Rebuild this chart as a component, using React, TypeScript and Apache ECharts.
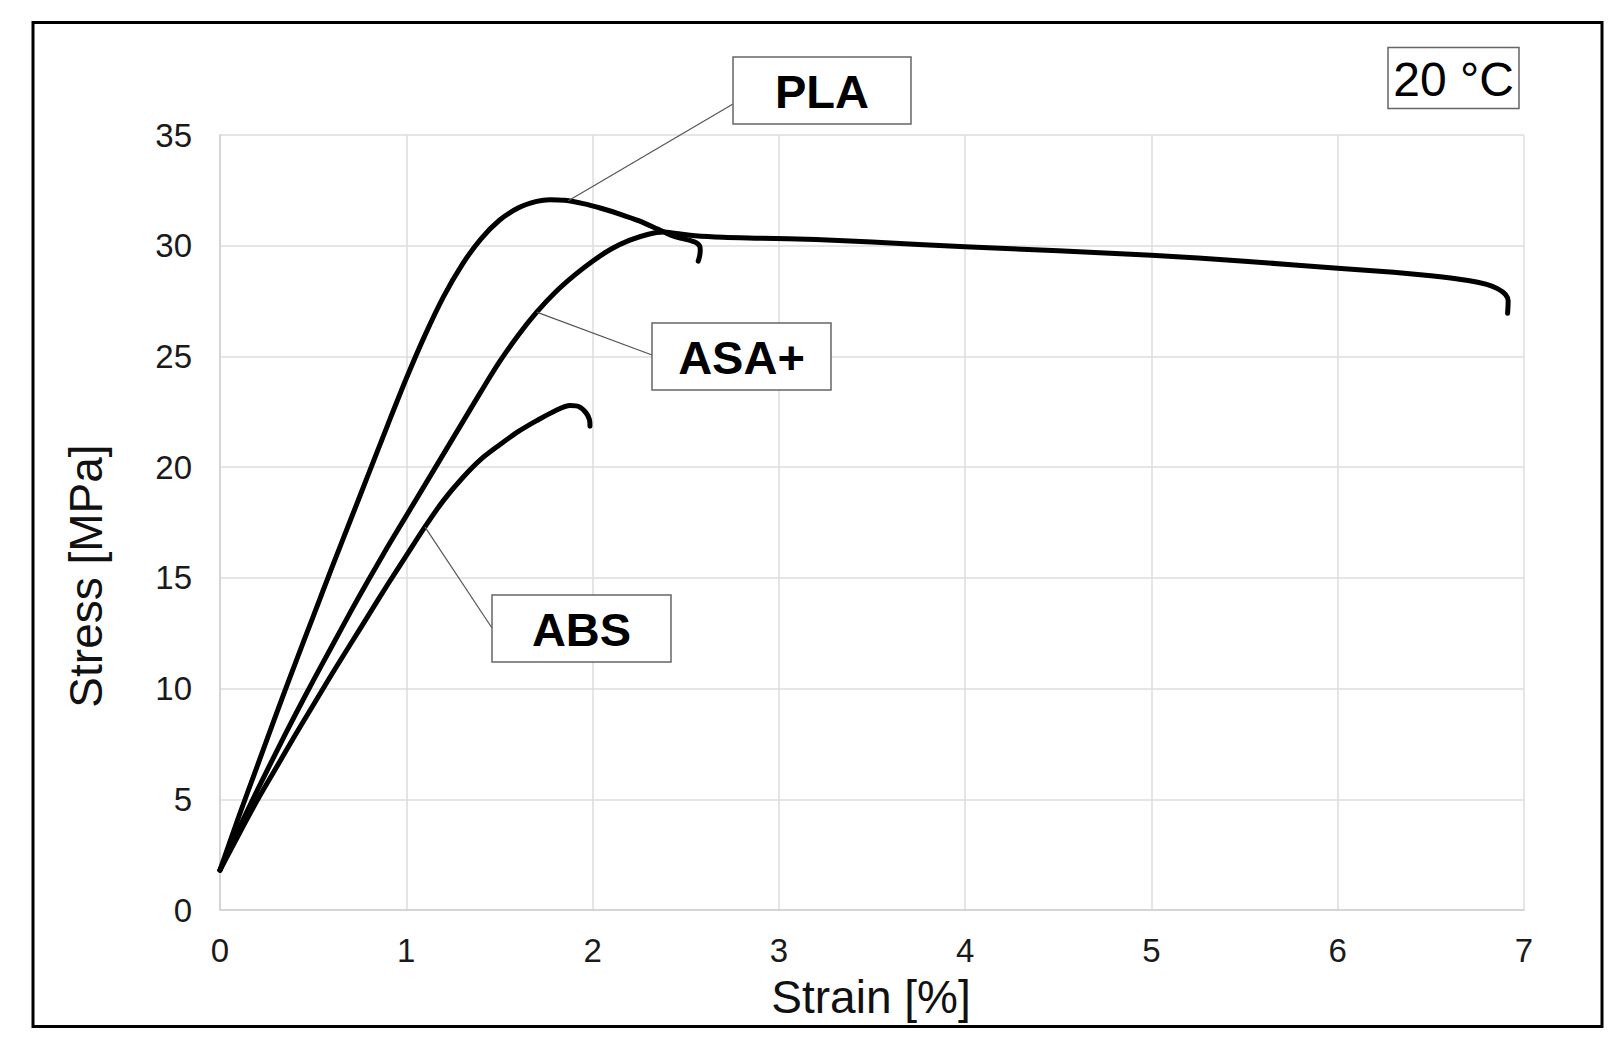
import React, { useEffect, useRef } from "react";
import * as echarts from "echarts";

// Strain [%] / Stress [MPa] readings for each material
const plaStrain = [0, 0.1, 0.2, 0.3, 0.4, 0.5, 0.6, 0.7, 0.8, 0.9, 1.0, 1.1, 1.2, 1.3, 1.4, 1.5, 1.6, 1.7, 1.77, 1.85, 1.95, 2.05, 2.15, 2.25, 2.35, 2.42, 2.48, 2.53, 2.56, 2.575, 2.578, 2.575, 2.567];
const plaStress = [1.8, 4.2, 6.5, 8.8, 11.05, 13.25, 15.45, 17.6, 19.75, 21.9, 24.0, 25.95, 27.7, 29.15, 30.3, 31.15, 31.7, 32.0, 32.08, 32.05, 31.9, 31.68, 31.42, 31.12, 30.75, 30.48, 30.33, 30.22, 30.12, 29.98, 29.8, 29.55, 29.3];

const asaStrain = [0, 0.1, 0.2, 0.3, 0.4, 0.5, 0.6, 0.7, 0.8, 0.9, 1.0, 1.1, 1.2, 1.3, 1.4, 1.5, 1.6, 1.7, 1.8, 1.9, 2.0, 2.1, 2.2, 2.3, 2.38, 2.45, 2.55, 2.7, 2.9, 3.2, 3.5, 4.0, 4.5, 5.0, 5.5, 6.0, 6.3, 6.5, 6.7, 6.8, 6.86, 6.9, 6.915, 6.912];
const asaStress = [1.8, 3.65, 5.4, 7.1, 8.75, 10.35, 11.9, 13.45, 14.95, 16.4, 17.8, 19.2, 20.6, 22.0, 23.4, 24.75, 25.95, 27.0, 27.9, 28.65, 29.3, 29.85, 30.25, 30.52, 30.62, 30.55, 30.45, 30.38, 30.34, 30.28, 30.17, 29.95, 29.77, 29.57, 29.3, 28.98, 28.8, 28.64, 28.43, 28.25, 28.05, 27.8, 27.5, 26.95];

const absStrain = [0, 0.1, 0.2, 0.3, 0.4, 0.5, 0.6, 0.7, 0.8, 0.9, 1.0, 1.1, 1.2, 1.3, 1.4, 1.5, 1.6, 1.7, 1.8, 1.88, 1.93, 1.965, 1.983, 1.986];
const absStress = [1.8, 3.4, 4.95, 6.4, 7.85, 9.25, 10.65, 12.0, 13.35, 14.7, 16.0, 17.3, 18.5, 19.5, 20.35, 21.0, 21.6, 22.1, 22.55, 22.78, 22.72, 22.45, 22.15, 21.85];

const seriesNames = ["PLA", "ASA+", "ABS"];
// label anchors on the curves (data coords)
const anchorPoints: [number, number][] = [[1.87, 32.03], [1.70, 27.0], [1.1, 17.3]];

const FONT = "'Liberation Sans', Arial, sans-serif";

function zip(xs: number[], ys: number[]) {
  return xs.map((x, i) => [x, ys[i]]);
}

export default function App() {
  const ref = useRef<HTMLDivElement>(null);
  useEffect(() => {
    if (!ref.current) return;
    const chart = echarts.init(ref.current, null, { renderer: "svg", width: 1624, height: 1048 });
    const lineSeries = (name: string, data: number[][]) => ({
      name,
      type: "line",
      data,
      showSymbol: false,
      smooth: 0.3,
      lineStyle: { color: "#000", width: 5, cap: "round", join: "round" },
      z: 3,
    });
    const axisCommon = {
      type: "value",
      axisLine: { show: true, lineStyle: { color: "#cfcfcf", width: 1.5 } },
      axisTick: { show: false },
      splitLine: { show: true, lineStyle: { color: "#dcdcdc", width: 1.5 } },
    };
    chart.setOption({
      animation: false,
      backgroundColor: "#fff",
      grid: { left: 220, right: 100, top: 135, bottom: 138, containLabel: false },
      xAxis: {
        ...axisCommon,
        min: 0,
        max: 7,
        interval: 1,
        axisLabel: { fontSize: 33, color: "#1a1a1a", margin: 24, fontFamily: FONT },
      },
      yAxis: {
        ...axisCommon,
        min: 0,
        max: 35,
        interval: 5,
        axisLabel: { fontSize: 33, color: "#1a1a1a", margin: 28, fontFamily: FONT },
      },
      series: [
        lineSeries(seriesNames[0], zip(plaStrain, plaStress)),
        lineSeries(seriesNames[1], zip(asaStrain, asaStress)),
        lineSeries(seriesNames[2], zip(absStrain, absStress)),
      ],
    });

    const px = anchorPoints.map((p) => chart.convertToPixel({ gridIndex: 0 }, p) as number[]);
    const boxes = [
      { x: 733, y: 57, w: 178, h: 67 },
      { x: 652, y: 323, w: 179, h: 67 },
      { x: 492, y: 595, w: 179, h: 67 },
    ];
    const leaderTargets = [
      [733, 104],
      [652, 355],
      [492, 628],
    ];
    const graphics: any[] = [];
    graphics.push({
      type: "rect",
      shape: { x: 33, y: 22.5, width: 1569, height: 1004 },
      style: { fill: "none", stroke: "#000", lineWidth: 3 },
      z: 10,
    });
    px.forEach((p, i) => {
      graphics.push({
        type: "line",
        shape: { x1: p[0], y1: p[1], x2: leaderTargets[i][0], y2: leaderTargets[i][1] },
        style: { stroke: "#555", lineWidth: 1.2 },
        z: 4,
      });
      const b = boxes[i];
      graphics.push({
        type: "rect",
        shape: { x: b.x, y: b.y, width: b.w, height: b.h },
        style: { fill: "#fff", stroke: "#666", lineWidth: 1.5 },
        z: 5,
      });
      graphics.push({
        type: "text",
        x: b.x + b.w / 2,
        y: b.y + b.h / 2 + 1,
        style: {
          text: seriesNames[i],
          fill: "#000",
          font: `bold 47px ${FONT}`,
          textAlign: "center",
          textVerticalAlign: "middle",
        },
        z: 6,
      });
    });
    // temperature box
    graphics.push({
      type: "rect",
      shape: { x: 1388, y: 47.5, width: 131, height: 61 },
      style: { fill: "#fff", stroke: "#666", lineWidth: 1.5 },
      z: 5,
    });
    graphics.push({
      type: "text",
      x: 1453.5,
      y: 79,
      style: {
        text: "20 °C",
        fill: "#000",
        font: `48px ${FONT}`,
        textAlign: "center",
        textVerticalAlign: "middle",
      },
      z: 6,
    });
    // axis titles
    graphics.push({
      type: "text",
      x: 871,
      y: 997,
      style: {
        text: "Strain [%]",
        fill: "#111",
        font: `46px ${FONT}`,
        textAlign: "center",
        textVerticalAlign: "middle",
      },
      z: 6,
    });
    graphics.push({
      type: "text",
      x: 86,
      y: 576,
      rotation: Math.PI / 2,
      style: {
        text: "Stress [MPa]",
        fill: "#111",
        font: `46px ${FONT}`,
        textAlign: "center",
        textVerticalAlign: "middle",
      },
      z: 6,
    });
    chart.setOption({ graphic: graphics });
    return () => chart.dispose();
  }, []);
  return (
    <div
      ref={ref}
      style={{ position: "fixed", left: 0, top: 0, width: 1624, height: 1048, background: "#fff" }}
    />
  );
}
